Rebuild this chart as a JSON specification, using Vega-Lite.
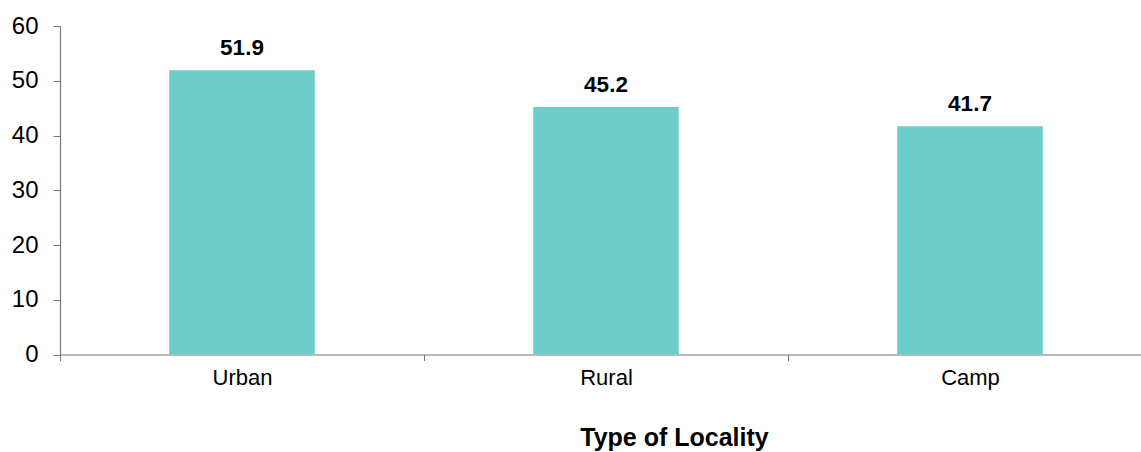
{
  "$schema": "https://vega.github.io/schema/vega-lite/v6.json",
  "autosize": "none",
  "padding": {"left": 60, "top": 26, "right": 0, "bottom": 98},
  "width": 1092,
  "height": 328.5,
  "background": "white",
  "config": {"view": {"stroke": null}, "font": "Liberation Sans"},
  "data": {"values": [
    {"locality": "Urban", "value": 51.9},
    {"locality": "Rural", "value": 45.2},
    {"locality": "Camp", "value": 41.7}
  ]},
  "encoding": {
    "x": {
      "field": "locality", "type": "nominal", "sort": null,
      "scale": {"paddingInner": 0, "paddingOuter": 0},
      "axis": {
        "title": "Type of Locality", "titleFont": "Liberation Sans", "titleFontSize": 25, "titleFontWeight": "bold", "titleColor": "#000",
        "titleX": 614, "titleY": 91, "titleBaseline": "alphabetic", "titleAnchor": "middle",
        "labelAngle": 0, "labelFontSize": 22, "labelColor": "#000", "labelPadding": 7,
        "tickBand": "extent", "tickSize": 6, "tickColor": "#777", "domainColor": "#777", "domainWidth": 1.2
      }
    },
    "y": {
      "field": "value", "type": "quantitative",
      "scale": {"domain": [0, 60], "nice": false},
      "axis": {
        "title": null, "values": [0, 10, 20, 30, 40, 50, 60], "grid": false,
        "labelFontSize": 24, "labelColor": "#000", "labelPadding": 15,
        "tickSize": 7, "tickColor": "#777", "domainColor": "#777", "domainWidth": 1.2
      }
    }
  },
  "layer": [
    {"mark": {"type": "bar", "color": "#6ECDC8", "width": {"band": 0.4}}},
    {"mark": {"type": "text", "baseline": "alphabetic", "dy": -15, "fontSize": 22.5, "fontWeight": "bold", "color": "#000"},
     "encoding": {"text": {"field": "value", "type": "quantitative", "format": ".1f"}}}
  ]
}
